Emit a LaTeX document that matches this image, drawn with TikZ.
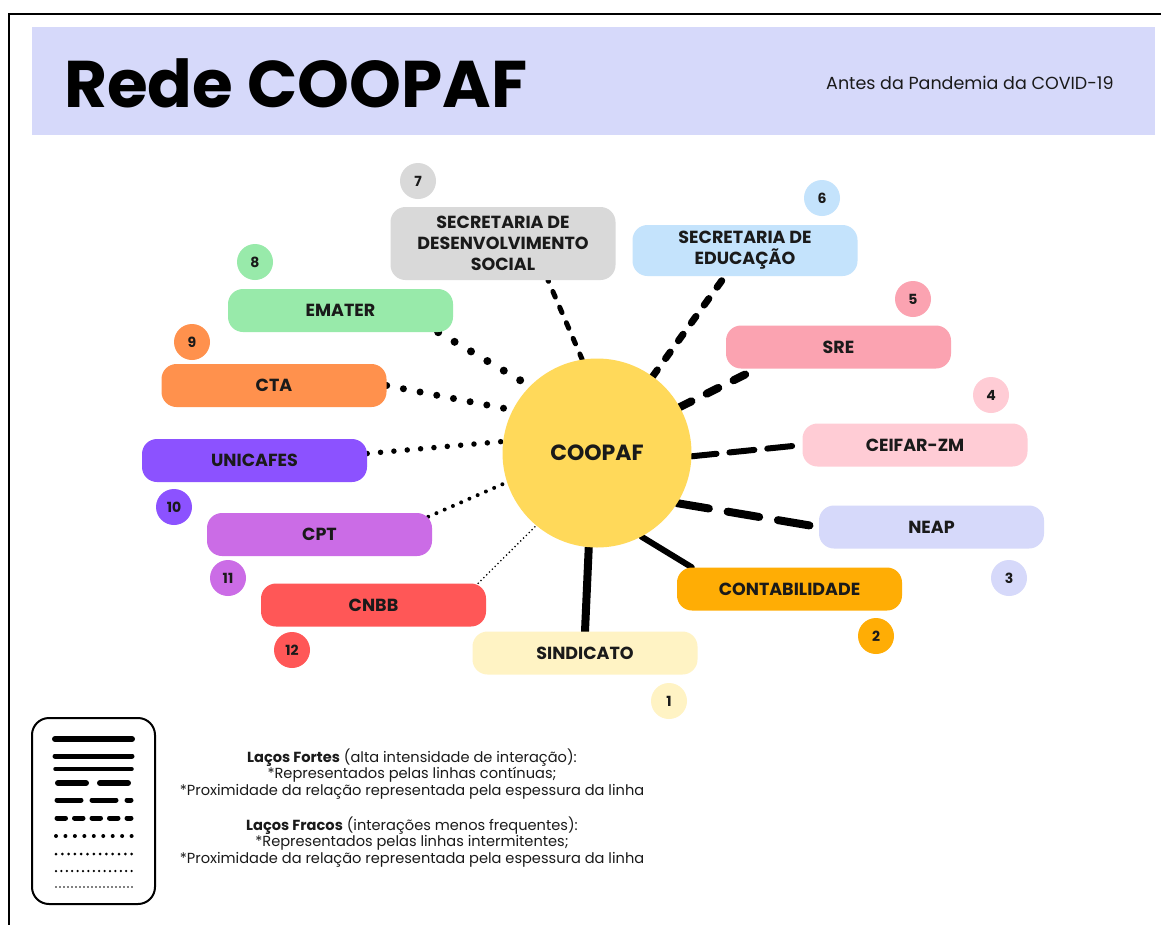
\documentclass[tikz,border=0pt]{standalone}
\usepackage{fontspec}
\setmainfont{Poppins}
\usetikzlibrary{calc,backgrounds}
\definecolor{ink}{HTML}{1A1A1A}
\definecolor{band}{HTML}{D6D9FA}
\definecolor{sun}{HTML}{FFD95A}
\definecolor{cSind}{HTML}{FFF3C4}
\definecolor{cCont}{HTML}{FFAD05}
\definecolor{cNeap}{HTML}{D6D9FA}
\definecolor{cCeif}{HTML}{FFCCD5}
\definecolor{cSre}{HTML}{FBA3B1}
\definecolor{cEdu}{HTML}{C4E3FC}
\definecolor{cDes}{HTML}{D9D9D9}
\definecolor{cEma}{HTML}{98EAAA}
\definecolor{cCta}{HTML}{FF914D}
\definecolor{cUni}{HTML}{8C52FF}
\definecolor{cCpt}{HTML}{CB6CE6}
\definecolor{cCnb}{HTML}{FF5757}
\begin{document}
\begin{tikzpicture}[x=1pt,y=-1pt,
  box/.style={rectangle, rounded corners=15pt, minimum width=225pt, minimum height=43pt,
    inner sep=0pt, align=center, text=ink, font=\bfseries\fontsize{17.5}{21}\selectfont},
  badge/.style={circle, minimum size=36pt, inner sep=0pt, text=ink,
    font=\bfseries\fontsize{14}{16}\selectfont},
  solidA/.style={line width=8pt, line cap=round},
  solidB/.style={line width=6pt, line cap=round},
  dashA/.style={line width=8pt, line cap=round, dash pattern=on 32pt off 19pt},
  dashB/.style={line width=6pt, line cap=round, dash pattern=on 25pt off 13pt},
  dashC/.style={line width=8pt, line cap=round, dash pattern=on 13pt off 17pt},
  dashD/.style={line width=7pt, line cap=round, dash pattern=on 8pt off 14pt},
  dashE/.style={line width=5pt, line cap=round, dash pattern=on 6pt off 11pt},
  dotA/.style={line width=8pt, line cap=round, dash pattern=on 0pt off 19pt},
  dotB/.style={line width=7pt, line cap=round, dash pattern=on 0pt off 17pt},
  dotC/.style={line width=5.5pt, line cap=round, dash pattern=on 0pt off 13.4pt},
  dotD/.style={line width=4pt, line cap=round, dash pattern=on 0pt off 9pt},
  dotE/.style={line width=1.8pt, line cap=round, dash pattern=on 0pt off 4pt},
  legtext/.style={align=center, text=ink, font=\fontsize{14.6}{16.2}\selectfont, inner sep=0pt}
]
\useasboundingbox (0,0) rectangle (1161,924);

% header
\fill[band] (32,27) rectangle (1155,135);
\draw[line width=2.7pt] (9,930) -- (9,14) -- (1170,14);
\node[anchor=base west, inner sep=0pt, font=\bfseries\fontsize{66}{70}\selectfont] (title) at (64,107) {Rede COOPAF};
\node[anchor=base west, inner sep=0pt, text=ink, font=\fontsize{17.5}{20}\selectfont] (subtitle) at (826,89) {Antes da Pandemia da COVID-19};

% centre
\node[circle, fill=sun, minimum size=189pt, inner sep=0pt, text=ink, font=\bfseries\fontsize{22}{26}\selectfont] (coopaf) at (597,453) {COOPAF};

% boxes
\node[box, fill=cSind] (sind) at (585,653) {SINDICATO};
\node[box, fill=cCont] (cont) at (789.5,589) {CONTABILIDADE};
\node[box, fill=cNeap] (neap) at (931.5,527) {NEAP};
\node[box, fill=cCeif] (ceif) at (915,445) {CEIFAR-ZM};
\node[box, fill=cSre] (sre) at (838.5,347) {SRE};
\node[box, fill=cEdu, minimum height=51pt] (edu) at (745,250.5) {SECRETARIA DE\\EDUCAÇÃO};
\node[box, fill=cDes, minimum height=73pt] (des) at (503,243.5) {SECRETARIA DE\\DESENVOLVIMENTO\\SOCIAL};
\node[box, fill=cEma] (ema) at (340.5,310.5) {EMATER};
\node[box, fill=cCta] (cta) at (274,385.5) {CTA};
\node[box, fill=cUni] (uni) at (254.5,460.5) {UNICAFES};
\node[box, fill=cCpt] (cpt) at (319.5,534.5) {CPT};
\node[box, fill=cCnb] (cnb) at (373.5,605) {CNBB};

% badges
\node[badge, fill=cSind] (b1) at (669,701) {1};
\node[badge, fill=cCont] (b2) at (876,636) {2};
\node[badge, fill=cNeap] (b3) at (1009,578) {3};
\node[badge, fill=cCeif] (b4) at (991,395) {4};
\node[badge, fill=cSre] (b5) at (913,299) {5};
\node[badge, fill=cEdu] (b6) at (822,198) {6};
\node[badge, fill=cDes] (b7) at (418,181) {7};
\node[badge, fill=cEma] (b8) at (255,262) {8};
\node[badge, fill=cCta] (b9) at (192,342) {9};
\node[badge, fill=cUni] (b10) at (174,507) {10};
\node[badge, fill=cCpt] (b11) at (228,578) {11};
\node[badge, fill=cCnb] (b12) at (292,650) {12};

% connectors
\begin{scope}[on background layer]
\fill[white] (0,0) rectangle (1161,924);
\draw[solidA] (coopaf.265) -- (sind.north);
\draw[solidB] (coopaf.298) -- ($(cont.north west)+(15,0)$);
\draw[dashA] (coopaf.328) -- (neap.west);
\draw[dashB] (coopaf.358) -- (ceif.west);
\draw[dashC] (coopaf.29) -- ($(sre.south west)+(31,0)$);
\draw[dashD] (coopaf.54) -- ($(edu.south)+(-20,0)$);
\draw[dashE] (coopaf.99) -- ($(des.south)+(45,0)$);
\draw[dotA] ($(ema.south east)+(-15,0)$) -- (coopaf.135);
\draw[dotB] (cta.east) -- (coopaf.153);
\draw[dotC] ($(uni.east)+(0,-7)$) -- (coopaf.173);
\draw[dotD] ($(cpt.north east)+(-4,4)$) -- (coopaf.198);
\draw[dotE] ($(cnb.north east)+(-8,0)$) -- (coopaf.230);
\end{scope}

% legend
\draw[line width=2pt, rounded corners=17pt] (32,718) rectangle (155,904);
\draw[line width=6pt, line cap=round] (55,739) -- (132,739);
\draw[line width=5pt, line cap=round] (55,756) -- (132,756);
\draw[line width=3.5pt, line cap=round] (55,769) -- (132,769);
\draw[line width=6pt, line cap=round, dash pattern=on 28pt off 14pt] (58,783) -- (130,783);
\draw[line width=5pt, line cap=round, dash pattern=on 24pt off 11pt] (57,800) -- (131,800);
\draw[line width=5pt, line cap=round, dash pattern=on 8.5pt off 9pt] (57,818) -- (131,818);
\draw[line width=4pt, line cap=round, dash pattern=on 0pt off 9.45pt] (56,836) -- (132.5,836);
\draw[line width=3pt, line cap=round, dash pattern=on 0pt off 6.3pt] (56,854) -- (132.5,854);
\draw[line width=2.5pt, line cap=round, dash pattern=on 0pt off 5.4pt] (56,871) -- (132.5,871);
\draw[line width=1.8pt, line cap=round, dash pattern=on 0pt off 4pt] (56,887) -- (132.5,887);

\node[legtext] (leg1) at (412,774) {\textbf{Laços Fortes} (alta intensidade de interação):\\*Representados pelas linhas contínuas;\\*Proximidade da relação representada pela espessura da linha};
\node[legtext] (leg2) at (412,842) {\textbf{Laços Fracos} (interações menos frequentes):\\*Representados pelas linhas intermitentes;\\*Proximidade da relação representada pela espessura da linha};
\end{tikzpicture}
\end{document}
